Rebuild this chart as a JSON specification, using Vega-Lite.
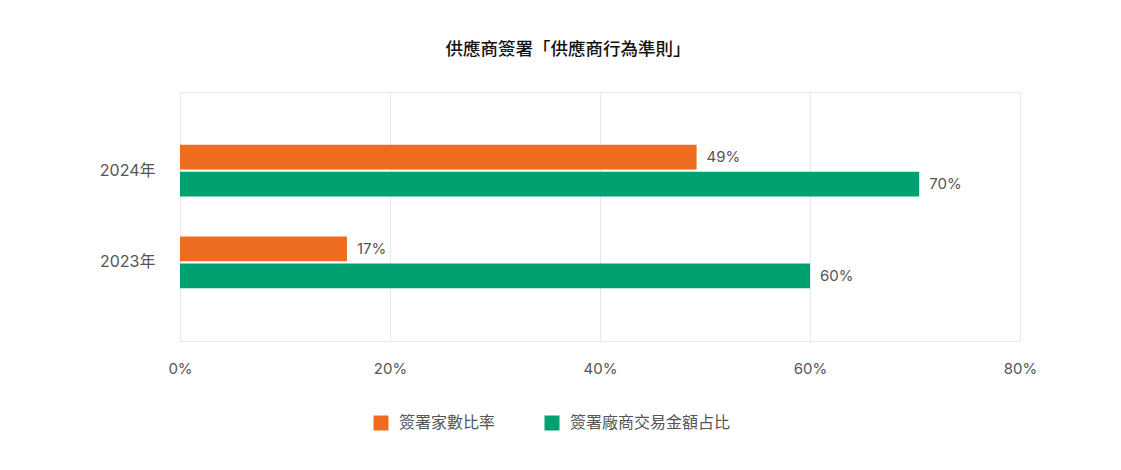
{
  "$schema": "https://vega.github.io/schema/vega-lite/v6.json",
  "width": 840,
  "height": 249,
  "autosize": "none",
  "padding": {"left": 180, "top": 92, "right": 101, "bottom": 129},
  "background": "white",
  "config": {
    "font": "Inter, Noto Sans CJK TC",
    "view": {"stroke": "#e8e8e8"}
  },
  "title": {
    "text": "供應商簽署「供應商行為準則」",
    "font": "Noto Sans CJK TC",
    "fontSize": 17.5,
    "fontWeight": 500,
    "color": "#111",
    "anchor": "middle",
    "frame": "group",
    "dx": -32,
    "offset": 34
  },
  "data": {
    "values": [
      {"year": "2024年", "series": "簽署家數比率", "value": 49.2, "label": "49%"},
      {"year": "2024年", "series": "簽署廠商交易金額占比", "value": 70.4, "label": "70%"},
      {"year": "2023年", "series": "簽署家數比率", "value": 15.9, "label": "17%"},
      {"year": "2023年", "series": "簽署廠商交易金額占比", "value": 60, "label": "60%"}
    ]
  },
  "encoding": {
    "y": {
      "field": "year",
      "type": "nominal",
      "sort": ["2024年", "2023年"],
      "title": null,
      "scale": {"paddingInner": 0.435, "paddingOuter": 0.576},
      "axis": {
        "domain": false,
        "ticks": false,
        "labelPadding": 25,
        "labelFontSize": 16,
        "labelColor": "#555"
      }
    },
    "yOffset": {
      "field": "series",
      "type": "nominal",
      "sort": ["簽署家數比率", "簽署廠商交易金額占比"],
      "scale": {"paddingInner": 0.08}
    },
    "x": {
      "field": "value",
      "type": "quantitative",
      "title": null,
      "scale": {"domain": [0, 80]},
      "axis": {
        "values": [0, 20, 40, 60, 80],
        "labelExpr": "datum.value + '%'",
        "labelFlush": false,
        "domain": false,
        "ticks": false,
        "gridColor": "#e8e8e8",
        "labelPadding": 20,
        "labelFontSize": 15,
        "labelColor": "#555"
      }
    }
  },
  "layer": [
    {
      "mark": {"type": "bar"},
      "encoding": {
        "color": {
          "field": "series",
          "type": "nominal",
          "sort": ["簽署家數比率", "簽署廠商交易金額占比"],
          "scale": {
            "domain": ["簽署家數比率", "簽署廠商交易金額占比"],
            "range": ["#ED6C20", "#00A170"]
          },
          "legend": {
            "title": null,
            "orient": "none",
            "direction": "horizontal",
            "legendX": 193,
            "legendY": 323,
            "symbolType": "square",
            "symbolSize": 225,
            "symbolStrokeWidth": 0,
            "labelFont": "Noto Sans CJK TC",
            "labelFontSize": 16,
            "labelColor": "#555",
            "labelOffset": 10,
            "labelLimit": 400,
            "columnPadding": 48
          }
        }
      }
    },
    {
      "mark": {"type": "text", "align": "left", "dx": 10, "fontSize": 15, "color": "#555"},
      "encoding": {
        "text": {"field": "label"}
      }
    }
  ]
}
